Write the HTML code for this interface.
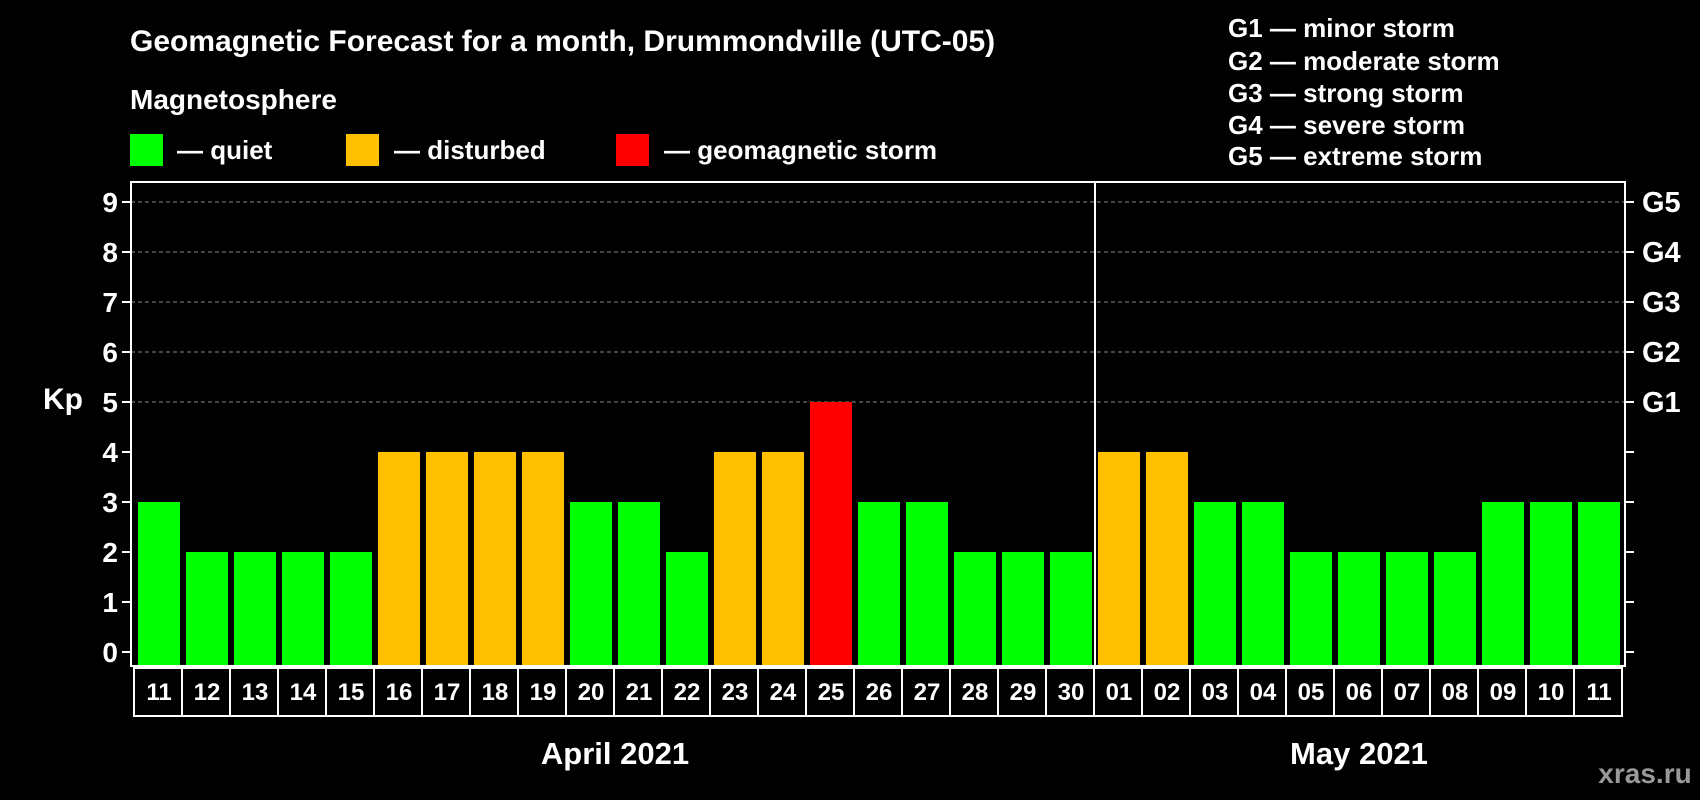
<!DOCTYPE html>
<html><head><meta charset="utf-8"><style>
html,body{margin:0;padding:0;background:#000;}
svg{display:block;font-family:"Liberation Sans",Arial,sans-serif;font-weight:bold;}
</style></head><body>
<svg id="chart" width="1700" height="800" viewBox="0 0 1700 800" xmlns="http://www.w3.org/2000/svg">
<rect width="1700" height="800" fill="#000"/>
<text x="130" y="51" fill="#fff" font-size="30">Geomagnetic Forecast for a month, Drummondville (UTC-05)</text>
<text x="130" y="109" fill="#fff" font-size="28">Magnetosphere</text>
<g><rect x="130" y="134" width="33" height="32" fill="#00ff00"/><text x="177" y="159" fill="#fff" font-size="26">— quiet</text></g>
<g><rect x="346" y="134" width="33" height="32" fill="#ffc000"/><text x="394" y="159" fill="#fff" font-size="26">— disturbed</text></g>
<g><rect x="616" y="134" width="33" height="32" fill="#ff0000"/><text x="664" y="159" fill="#fff" font-size="26">— geomagnetic storm</text></g>
<g fill="#fff" font-size="26">
<text x="1228" y="37">G1 — minor storm</text>
<text x="1228" y="70">G2 — moderate storm</text>
<text x="1228" y="102">G3 — strong storm</text>
<text x="1228" y="134">G4 — severe storm</text>
<text x="1228" y="165">G5 — extreme storm</text>
</g>
<text x="43" y="409" fill="#fff" font-size="30">Kp</text>
<text x="1645" y="783" fill="#999" font-size="28" text-anchor="middle">xras.ru</text>
<g id="plot"></g>
</svg>
<script>
const days=["11","12","13","14","15","16","17","18","19","20","21","22","23","24","25","26","27","28","29","30","01","02","03","04","05","06","07","08","09","10","11"];
const kpValues=[3,2,2,2,2,4,4,4,4,3,3,2,4,4,5,3,3,2,2,2,4,4,3,3,2,2,2,2,3,3,3];
const yTicks=[0,1,2,3,4,5,6,7,8,9];
const gLabels=["G1","G2","G3","G4","G5"];
const months=["April 2021","May 2021"];
const monthDayCounts=[20,11];

const NS="http://www.w3.org/2000/svg";
const L=131,R=1625,T=182,B=666;
const y0=652,ky=50;
const x0=138,pitch=48,bw=42;
function yScale(v){return y0-v*ky;}
function xScale(i){return x0+i*pitch;}
function mk(tag,attrs,parent){const e=document.createElementNS(NS,tag);for(const k in attrs)e.setAttribute(k,attrs[k]);parent.appendChild(e);return e;}
const g=document.getElementById('plot');

yTicks.forEach(v=>{
  const y=yScale(v);
  if(v>=5){const gl=mk('line',{x1:L,x2:R,y1:y,y2:y,stroke:'#888','stroke-width':1,'stroke-dasharray':'4,3'},g);
  
  }
  mk('line',{x1:L-9,x2:L,y1:y,y2:y,stroke:'#fff','stroke-width':2},g);
  mk('line',{x1:R,x2:R+9,y1:y,y2:y,stroke:'#fff','stroke-width':2},g);
  const t=mk('text',{x:L-13,y:y+10,fill:'#fff','font-size':28,'text-anchor':'end'},g);
  t.textContent=v;
  
  
});
gLabels.forEach((s,i)=>{
  const t=mk('text',{x:1642,y:yScale(5+i)+10,fill:'#fff','font-size':29},g);
  t.textContent=s;
  
  
});
kpValues.forEach((v,i)=>{
  const c=v>=5?'#ff0000':(v>=4?'#ffc000':'#00ff00');
  const r=mk('rect',{x:xScale(i),y:yScale(v),width:bw,height:B-yScale(v),fill:c},g);
  
  
  const bx=mk('rect',{x:xScale(i)-4,y:668,width:pitch,height:48,fill:'none',stroke:'#fff','stroke-width':2},g);
  
  
  const t=mk('text',{x:xScale(i)+bw/2,y:700,fill:'#fff','font-size':24,'text-anchor':'middle'},g);
  t.textContent=days[i];
  
  
});
const frame=mk('rect',{x:L,y:T,width:R-L,height:B-T,fill:'none',stroke:'#fff','stroke-width':2},g);


let start=0;
months.forEach((m,k)=>{
  const end=start+monthDayCounts[k];
  if(k>0){const sl=mk('line',{x1:xScale(start)-3,x2:xScale(start)-3,y1:T,y2:B,stroke:'#fff','stroke-width':2},g);
    
    }
  const cx=(xScale(start)+xScale(end-1)+bw)/2;
  const t=mk('text',{x:cx,y:764,fill:'#fff','font-size':31,'text-anchor':'middle'},g);
  t.textContent=m;
  
  
  start=end;
});
</script>
</body></html>
